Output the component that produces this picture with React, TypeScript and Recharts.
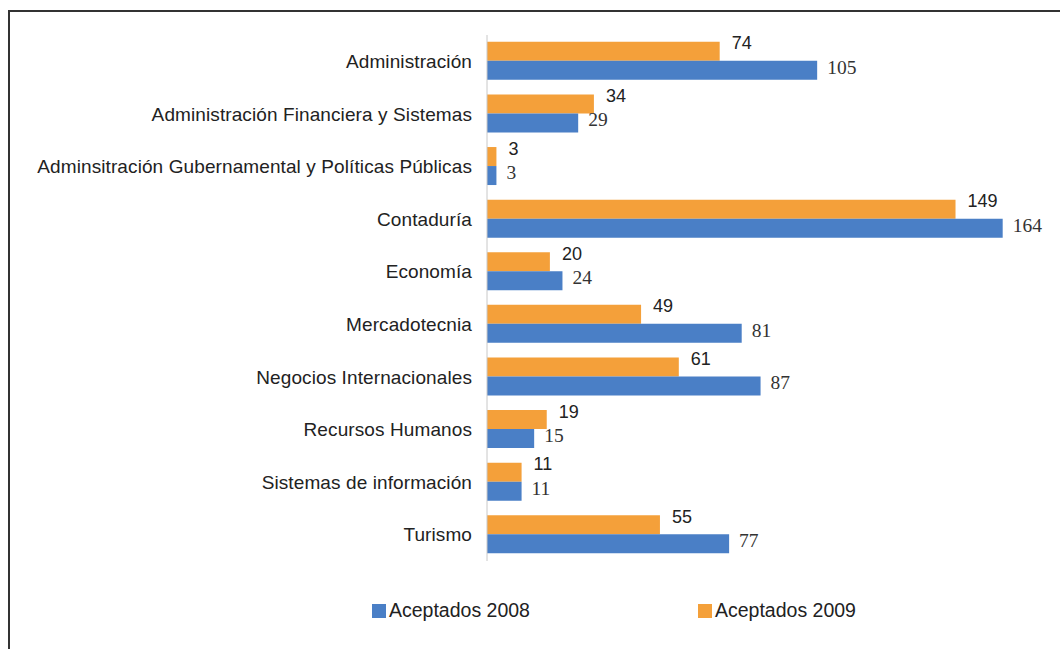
import React from "react";
import { Bar, BarChart, LabelList, Legend, XAxis, YAxis } from "recharts";

const categories = [
  "Administración",
  "Administración Financiera y Sistemas",
  "Adminsitración Gubernamental y Políticas Públicas",
  "Contaduría",
  "Economía",
  "Mercadotecnia",
  "Negocios Internacionales",
  "Recursos Humanos",
  "Sistemas de información",
  "Turismo",
];

const aceptados2008 = [105, 29, 3, 164, 24, 81, 87, 15, 11, 77];
const aceptados2009 = [74, 34, 3, 149, 20, 49, 61, 19, 11, 55];

const ORANGE = "#F4A03A";
const BLUE = "#4A7FC6";
const SANS = "Liberation Sans, Arial, sans-serif";

const data = categories.map((name, i) => ({
  name,
  a2008: aceptados2008[i],
  a2009: aceptados2009[i],
}));

const sansLabel = (props: any) => {
  const { x, y, width, height, value } = props;
  return (
    <text
      x={x + width + 12}
      y={y + height / 2 - 8}
      fill="#222"
      fontSize={18}
      fontFamily={SANS}
      dominantBaseline="central"
    >
      {value}
    </text>
  );
};

const serifLabel = (props: any) => {
  const { x, y, width, height, value } = props;
  return (
    <text
      x={x + width + 10}
      y={y + height / 2 - 3}
      fill="#333"
      fontSize={19.5}
      fontFamily="Liberation Serif, Times New Roman, serif"
      dominantBaseline="central"
    >
      {value}
    </text>
  );
};

const LegendBox = () => (
  <div
    style={{
      position: "relative",
      height: 24,
      fontFamily: SANS,
      fontSize: 19.5,
      color: "#222",
    }}
  >
    <div style={{ position: "absolute", left: 372, top: 0, display: "flex", alignItems: "center" }}>
      <span style={{ width: 14, height: 14, background: BLUE, marginRight: 3 }} />
      Aceptados 2008
    </div>
    <div style={{ position: "absolute", left: 698, top: 0, display: "flex", alignItems: "center" }}>
      <span style={{ width: 14, height: 14, background: ORANGE, marginRight: 3 }} />
      Aceptados 2009
    </div>
  </div>
);

export default function App() {
  return (
    <div
      style={{
        position: "fixed",
        left: 0,
        top: 0,
        width: 1060,
        height: 649,
        background: "#fff",
      }}
    >
      <div
        style={{
          position: "absolute",
          left: 8,
          top: 10,
          width: 1060,
          height: 660,
          borderLeft: "2px solid #333",
          borderTop: "2px solid #333",
        }}
      />
      <div style={{ position: "absolute", left: 0, top: 0 }}>
        <BarChart
          width={1060}
          height={649}
          data={data}
          layout="vertical"
          margin={{ top: 35, right: 7, bottom: 64, left: 0 }}
          barCategoryGap="13%"
          barGap={0}
        >
          <XAxis type="number" domain={[0, 180]} hide />
          <YAxis
            type="category"
            dataKey="name"
            width={487}
            axisLine={{ stroke: "#c8c8c8" }}
            tickLine={false}
            tickMargin={9}
            tick={{
              fill: "#222",
              fontSize: 19,
              fontFamily: SANS,
              letterSpacing: 0.1,
            }}
            interval={0}
          />
          <Legend
            verticalAlign="bottom"
            wrapperStyle={{ left: 0, bottom: 26, width: 1060 }}
            content={() => <LegendBox />}
          />
          <Bar dataKey="a2009" fill={ORANGE} isAnimationActive={false}>
            <LabelList dataKey="a2009" content={sansLabel} />
          </Bar>
          <Bar dataKey="a2008" fill={BLUE} isAnimationActive={false}>
            <LabelList dataKey="a2008" content={serifLabel} />
          </Bar>
        </BarChart>
      </div>
    </div>
  );
}
